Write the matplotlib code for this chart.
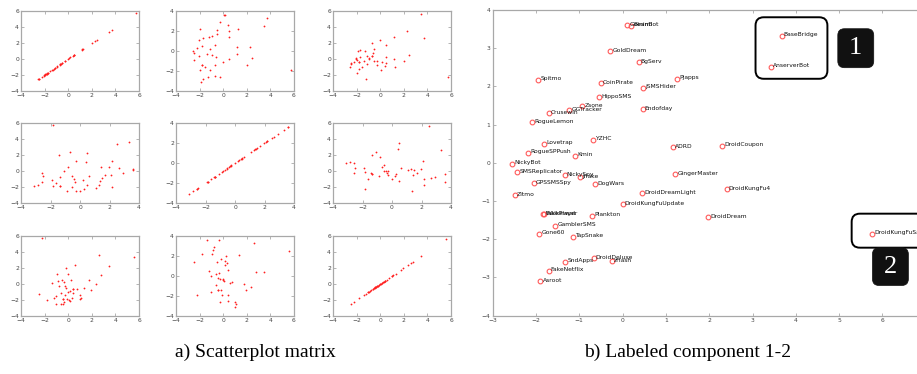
import matplotlib
matplotlib.use('Agg')
import matplotlib.pyplot as plt
from matplotlib.patches import FancyBboxPatch

# ---------------- data ----------------
families = ["Geinimi", "BeanBot", "GoldDream", "BgServ", "Spitmo", "CoinPirate",
            "Pjapps", "jSMSHider", "HippoSMS", "Zsone", "GGTracker", "Crusewin",
            "Endofday", "RogueLemon", "YZHC", "ADRD", "Lovetrap", "RogueSPPush",
            "Kmin", "NickyBot", "SMSReplicator", "NickySpy", "Jifake", "DogWars",
            "GingerMaster", "GPSSMSSpy", "Zitmo", "DroidDreamLight",
            "DroidKungFuUpdate", "FakePlayer", "Walkinwat", "Plankton", "GamblerSMS",
            "Gone60", "TapSnake", "DroidDeluxe", "zHash", "SndApps", "FakeNetflix",
            "Asroot", "BaseBridge", "AnserverBot", "DroidCoupon", "DroidKungFu4",
            "DroidDream", "DroidKungFuSapp"]
comp1 = [0.10, 0.19, -0.28, 0.37, -1.95, -0.51,
         1.26, 0.47, -0.55, -0.93, -1.24, -1.71,
         0.46, -2.09, -0.68, 1.16, -1.81, -2.19,
         -1.10, -2.55, -2.44, -1.34, -0.98, -0.63,
         1.21, -2.05, -2.49, 0.45,
         0.00, -1.83, -1.82, -0.70, -1.55,
         -1.93, -1.15, -0.67, -0.25, -1.32, -1.71,
         -1.90, 3.67, 3.43, 2.30, 2.40,
         1.98, 5.77]
comp2 = [3.61, 3.59, 2.93, 2.64, 2.18, 2.08,
         2.20, 1.97, 1.72, 1.49, 1.38, 1.30,
         1.40, 1.07, 0.61, 0.41, 0.50, 0.27,
         0.19, -0.02, -0.24, -0.32, -0.38, -0.55,
         -0.30, -0.54, -0.85, -0.80,
         -1.08, -1.35, -1.35, -1.38, -1.64,
         -1.85, -1.93, -2.49, -2.57, -2.59, -2.82,
         -3.10, 3.33, 2.52, 0.45, -0.68,
         -1.43, -1.85]
comp3 = [-1.40, -0.35, -0.80, -0.90, -1.80, 1.30,
         -0.96, 0.20, -0.20, 0.12, -2.50, 0.30,
         -0.50, 0.12, 0.42, 2.80, -1.20, -0.33,
         -0.60, -1.04, -0.45, -0.29, -0.04, 0.71,
         -0.04, 0.05, -0.60, 1.75,
         2.38, -0.42, -0.42, 1.96, -1.04,
         -0.12, 0.42, 0.40, -0.30, 0.96, 1.12,
         0.96, 2.65, 5.60, 3.46, 0.54,
         -0.20, -2.20]

components = [comp1, comp2, comp3]
comp_limits = [(-4, 6), (-4, 4), (-4, 6)]
comp_ticks = [[-4, -2, 0, 2, 4, 6], [-4, -2, 0, 2, 4], [-4, -2, 0, 2, 4, 6]]

right_xticks = [-3, -2, -1, 0, 1, 2, 3, 4, 5, 6]
right_yticks = [-4, -3, -2, -1, 0, 1, 2, 3, 4]

caption_a = "a) Scatterplot matrix"
caption_b = "b) Labeled component 1-2"

# ---------------- figure ----------------
W, H = 917, 374
fig = plt.figure(figsize=(W / 100, H / 100), dpi=100)

spine_col = '#a8a8a8'
tick_col = '#444444'

def px_axes(left, top, width, height):
    return fig.add_axes([left / W, 1 - (top + height) / H, width / W, height / H])

def style_axes(ax, fs):
    for s in ax.spines.values():
        s.set_color(spine_col)
        s.set_linewidth(0.9)
    ax.tick_params(direction='in', length=2.2, width=0.6, color=spine_col,
                   labelsize=fs, labelcolor=tick_col, pad=1.5)

col_left = [21, 176, 333]
row_top = [11, 123, 236]
cw, rh = 118, 80

for i in range(3):
    for j in range(3):
        ax = px_axes(col_left[j], row_top[i], cw, rh)
        ax.plot(components[i], components[j], linestyle='none', marker='o',
                markersize=1.3, markeredgewidth=0, color='#ff2020')
        ax.set_xlim(*comp_limits[i])
        ax.set_ylim(*comp_limits[j])
        ax.set_xticks(comp_ticks[i])
        ax.set_yticks(comp_ticks[j])
        style_axes(ax, 4.3)
        ax.tick_params(top=True, right=True)

# right panel
axr = px_axes(492.7, 10, W - 492.7, 305.7)
axr.set_xlim(-3, -3 + (W - 492.7) / 43.3)
axr.set_ylim(-4, 4)
axr.set_xticks(right_xticks)
axr.set_yticks(right_yticks)
style_axes(axr, 4.3)
axr.spines['right'].set_visible(False)
axr.tick_params(top=True, labeltop=False)
axr.plot(comp1, comp2, linestyle='none', marker='o', markersize=3.4,
         markerfacecolor='none', markeredgecolor='#ff5a5a', markeredgewidth=0.8)
for name, x, y in zip(families, comp1, comp2):
    axr.annotate(name, (x, y), xytext=(1.6, 0.6), textcoords='offset points',
                 fontsize=4.3, va='center', ha='left', color='#111111',
                 family='DejaVu Sans', clip_on=True)

# annotation boxes (data coords of right panel)
asp = 43.3 / 38.1
rs = 0.19
box1 = FancyBboxPatch((3.07, 2.20), 1.66, 1.61,
                      boxstyle=f"round,pad=0,rounding_size={rs}",
                      mutation_aspect=asp, fill=False, edgecolor='black',
                      linewidth=1.4, clip_on=False)
axr.add_patch(box1)
box2 = FancyBboxPatch((5.29, -2.22), 2.0, 0.89,
                      boxstyle=f"round,pad=0,rounding_size={rs}",
                      mutation_aspect=asp, fill=False, edgecolor='black',
                      linewidth=1.4, clip_on=True)
axr.add_patch(box2)
lab1 = FancyBboxPatch((4.97, 2.49), 0.83, 1.02,
                      boxstyle=f"round,pad=0,rounding_size={rs * 0.8}",
                      mutation_aspect=asp, facecolor='#111111', edgecolor='#111111',
                      linewidth=0.5, clip_on=False)
axr.add_patch(lab1)
lab2 = FancyBboxPatch((5.77, -3.21), 0.83, 0.99,
                      boxstyle=f"round,pad=0,rounding_size={rs * 0.8}",
                      mutation_aspect=asp, facecolor='#111111', edgecolor='#111111',
                      linewidth=0.5, clip_on=False)
axr.add_patch(lab2)
axr.text(4.97 + 0.415, 2.49 + 0.51, "1", color='white', fontsize=19,
         family='Liberation Serif', ha='center', va='center')
axr.text(5.77 + 0.415, -3.21 + 0.495, "2", color='white', fontsize=19,
         family='Liberation Serif', ha='center', va='center')

fig.text(255 / W, 1 - 352 / H, caption_a, fontsize=14, family='Liberation Serif',
         ha='center', va='center')
fig.text(688 / W, 1 - 352 / H, caption_b, fontsize=14, family='Liberation Serif',
         ha='center', va='center')

fig.savefig('out.png', dpi=100)
